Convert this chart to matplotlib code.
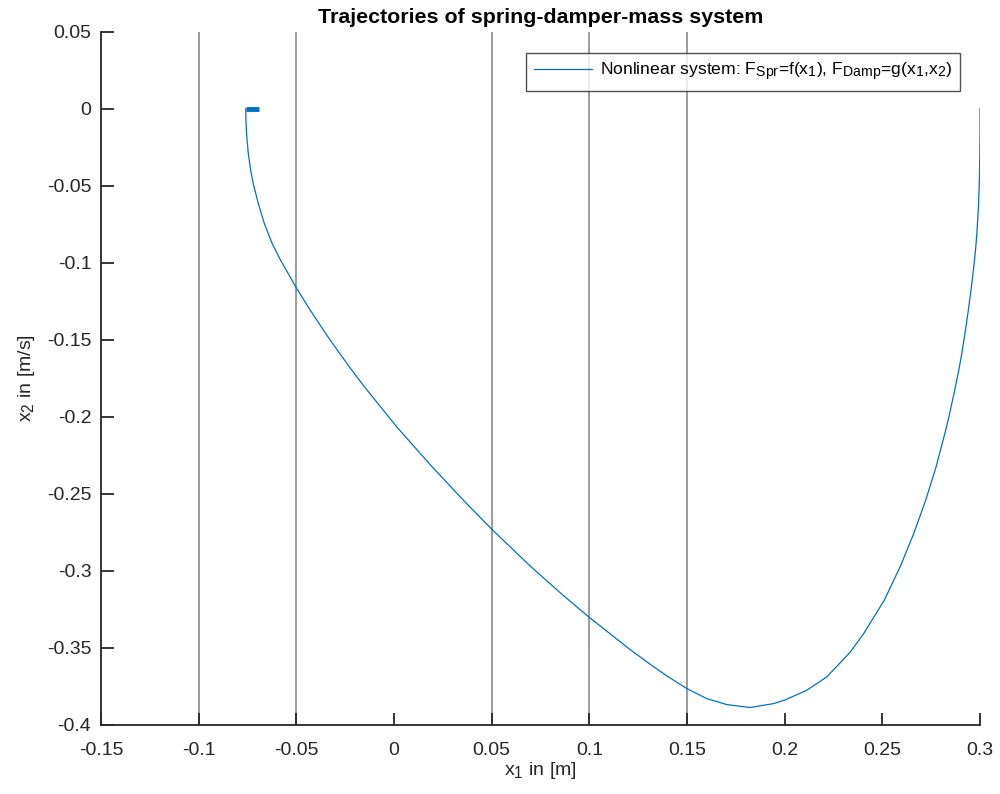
import numpy as np
import matplotlib.pyplot as plt
import matplotlib._mathtext as mathtext_internal

plt.rcParams['font.family'] = ['Liberation Sans', 'DejaVu Sans']
plt.rcParams['mathtext.fontset'] = 'custom'
plt.rcParams['mathtext.rm'] = 'Liberation Sans'
plt.rcParams['mathtext.it'] = 'Liberation Sans'
# larger sub/superscripts, closer to the TeX interpreter look
mathtext_internal.SHRINK_FACTOR = 0.8

# phase-plane trajectory, x1 position [m] and x2 velocity [m/s]
x1 = [0.3000, 0.3000, 0.2999, 0.2996, 0.2992, 0.2984, 0.2977, 0.2968, 0.2956,
      0.2938, 0.2923, 0.2904, 0.2888, 0.2867, 0.2839, 0.2820, 0.2775, 0.2722,
      0.2661, 0.2591, 0.2510, 0.2405, 0.2335, 0.2216, 0.2113, 0.2002, 0.1942,
      0.1823, 0.1704, 0.1601, 0.1499, 0.1397, 0.1311, 0.1209, 0.1000, 0.0867,
      0.0697, 0.0500, 0.0355, 0.0185, 0.0014, -0.0157, -0.0234, -0.0327,
      -0.0362, -0.0430, -0.0500, -0.0581, -0.0624, -0.0664, -0.0695, -0.0721,
      -0.0734, -0.0746, -0.0755, -0.0758, -0.0759]
x2 = [0.0000, -0.0160, -0.0300, -0.0506, -0.0636, -0.0809, -0.0918, -0.1026,
      -0.1156, -0.1329, -0.1458, -0.1610, -0.1718, -0.1848, -0.2010, -0.2108,
      -0.2325, -0.2541, -0.2757, -0.2974, -0.3190, -0.3406, -0.3528, -0.3688,
      -0.3775, -0.3838, -0.3862, -0.3887, -0.3868, -0.3829, -0.3764, -0.3682,
      -0.3606, -0.3511, -0.3302, -0.3160, -0.2968, -0.2729, -0.2541, -0.2310,
      -0.2065, -0.1796, -0.1666, -0.1501, -0.1436, -0.1305, -0.1163, -0.0982,
      -0.0874, -0.0744, -0.0614, -0.0484, -0.0398, -0.0290, -0.0160, -0.0073,
      0.0000]

# settling part near the rest position
settle_x1 = [-0.0759, -0.0691]
settle_x2 = [0.0, 0.0]

# spring characteristic breakpoints
breaks = [-0.1, -0.05, 0.05, 0.1, 0.15]

xticks = [-0.15, -0.1, -0.05, 0, 0.05, 0.1, 0.15, 0.2, 0.25, 0.3]
xticklabels = ['-0.15', '-0.1', '-0.05', '0', '0.05', '0.1', '0.15', '0.2', '0.25', '0.3']
yticks = [0.05, 0, -0.05, -0.1, -0.15, -0.2, -0.25, -0.3, -0.35, -0.4]
yticklabels = ['0.05', '0', '-0.05', '-0.1', '-0.15', '-0.2', '-0.25', '-0.3', '-0.35', '-0.4']

blue = '#0072BD'
dark = '#262626'
fs = 14

fig = plt.figure(figsize=(10, 7.94), dpi=100)
ax = fig.add_axes([0.101, 0.087, 0.879, 0.873])

for b in breaks:
    ax.axvline(b, color='#808080', lw=1.1, zorder=1)

ax.plot(x1, x2, color=blue, lw=0.9, zorder=3,
        label=r'Nonlinear system: F$_{\mathrm{Spr}}$=f(x$_1$), F$_{\mathrm{Damp}}$=g(x$_1$,x$_2$)')
ax.plot(settle_x1, settle_x2, color=blue, lw=3.5, solid_capstyle='butt', zorder=3)

ax.set_xlim(-0.15, 0.3)
ax.set_ylim(-0.4, 0.05)
ax.set_xticks(xticks)
ax.set_xticklabels(xticklabels)
ax.set_yticks(yticks)
ax.set_yticklabels(yticklabels)

for side in ['top', 'right']:
    ax.spines[side].set_visible(False)
for side in ['left', 'bottom']:
    ax.spines[side].set_color(dark)
    ax.spines[side].set_linewidth(1.3)
ax.tick_params(direction='in', length=9, width=1.3, colors=dark, labelsize=fs)
ax.tick_params(axis='x', pad=12)
ax.tick_params(axis='y', pad=7)

ax.set_title('Trajectories of spring-damper-mass system', fontsize=fs * 1.1,
             fontweight='bold', color='black', pad=6)
ax.set_xlabel(r'x$_1$ in [m]', fontsize=fs, color=dark)
ax.set_ylabel(r'x$_2$ in [m/s]', fontsize=fs, color=dark)
ax.xaxis.set_label_coords(0.5, -0.05)
ax.yaxis.set_label_coords(-0.073, 0.5)

leg = ax.legend(loc='upper right', bbox_to_anchor=(0.977, 0.970), borderaxespad=0,
                fontsize=fs * 0.9, frameon=True, fancybox=False, handlelength=3.3,
                handletextpad=0.45, borderpad=0.45)
leg.get_frame().set_edgecolor(dark)
leg.get_frame().set_linewidth(1.0)
for t in leg.get_texts():
    t.set_color('black')

fig.savefig('out.png', dpi=100)
